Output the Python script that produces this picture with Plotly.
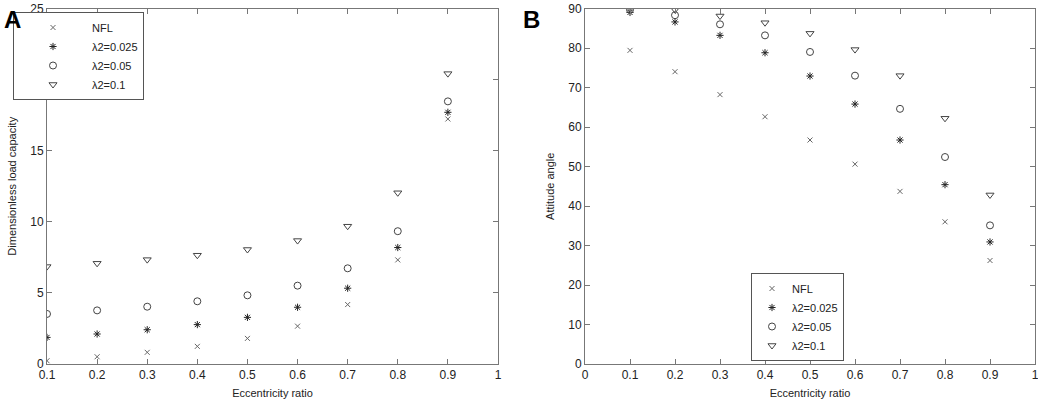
import plotly.graph_objects as go

ecc_a = [0.1, 0.2, 0.3, 0.4, 0.5, 0.6, 0.7, 0.8, 0.9]
load_nfl = [0.23, 0.51, 0.82, 1.24, 1.80, 2.66, 4.18, 7.32, 17.23]
load_l025 = [1.87, 2.11, 2.41, 2.77, 3.28, 3.99, 5.33, 8.19, 17.70]
load_l05 = [3.52, 3.77, 4.03, 4.41, 4.83, 5.51, 6.73, 9.34, 18.47]
load_l1 = [6.85, 7.08, 7.34, 7.65, 8.05, 8.68, 9.69, 12.04, 20.42]

ecc_b = [0.1, 0.2, 0.3, 0.4, 0.5, 0.6, 0.7, 0.8, 0.9]
ang_nfl = [79.4, 74.0, 68.2, 62.6, 56.7, 50.6, 43.7, 36.0, 26.2]
ang_l025 = [89.0, 86.6, 83.2, 78.8, 72.9, 65.8, 56.7, 45.4, 30.9]
ang_l05 = [89.7, 88.3, 86.0, 83.2, 79.0, 73.0, 64.6, 52.4, 35.1]
ang_l1 = [90.0, 89.7, 88.1, 86.4, 83.7, 79.6, 73.0, 62.2, 42.8]

names = ["NFL", "λ2=0.025", "λ2=0.05", "λ2=0.1"]
symbols = ["x-thin-open", "asterisk-open", "circle-open", "triangle-down-open"]
sizes = [5, 6, 7, 7]
colors = ["#666666", "#222222", "#444444", "#444444"]

FONT = "Liberation Sans, Arial, sans-serif"
W, H = 1038, 399

fig = go.Figure()

series_a = [load_nfl, load_l025, load_l05, load_l1]
series_b = [ang_nfl, ang_l025, ang_l05, ang_l1]

for i in range(4):
    fig.add_trace(go.Scatter(
        x=ecc_a, y=series_a[i], mode="markers", name=names[i],
        marker=dict(symbol=symbols[i], size=sizes[i], color=colors[i],
                    line=dict(width=1, color=colors[i])),
        xaxis="x", yaxis="y", legend="legend", hoverinfo="skip"))
for i in range(4):
    fig.add_trace(go.Scatter(
        x=ecc_b, y=series_b[i], mode="markers", name=names[i],
        marker=dict(symbol=symbols[i], size=sizes[i], color=colors[i],
                    line=dict(width=1, color=colors[i])),
        xaxis="x2", yaxis="y2", legend="legend2", hoverinfo="skip"))

ydom = [1 - 364 / H, 1 - 8.5 / H]
axcommon = dict(showgrid=False, zeroline=False, showline=True, linecolor="#777777",
                linewidth=1, mirror="allticks", ticks="inside", ticklen=5,
                tickcolor="#777777", tickfont=dict(family=FONT, size=12, color="#222"),
                automargin=False, ticklabeloverflow="allow")

fig.update_layout(
    width=W, height=H,
    margin=dict(l=0, r=0, t=0, b=0),
    paper_bgcolor="white", plot_bgcolor="white",
    font=dict(family=FONT, color="#222"),
    xaxis=dict(domain=[47 / W, 498 / W], range=[0.1, 1],
               tickvals=[0.1, 0.2, 0.3, 0.4, 0.5, 0.6, 0.7, 0.8, 0.9, 1],
               ticktext=["0.1", "0.2", "0.3", "0.4", "0.5", "0.6", "0.7", "0.8", "0.9", "1"],
               title=dict(text="Eccentricity ratio", font=dict(family=FONT, size=11), standoff=7),
               anchor="y", **axcommon),
    yaxis=dict(domain=ydom, range=[0, 25], dtick=5,
               title=dict(text="Dimensionless load capacity", font=dict(family=FONT, size=11), standoff=11),
               anchor="x", **axcommon),
    xaxis2=dict(domain=[585 / W, 1035 / W], range=[0, 1],
                tickvals=[0, 0.1, 0.2, 0.3, 0.4, 0.5, 0.6, 0.7, 0.8, 0.9, 1],
                ticktext=["0", "0.1", "0.2", "0.3", "0.4", "0.5", "0.6", "0.7", "0.8", "0.9", "1"],
                title=dict(text="Eccentricity ratio", font=dict(family=FONT, size=11), standoff=7),
                anchor="y2", **axcommon),
    yaxis2=dict(domain=ydom, range=[0, 90], dtick=10,
                title=dict(text="Attitude angle", font=dict(family=FONT, size=11), standoff=11),
                anchor="x2", **axcommon),
    legend=dict(x=13 / W, y=1 - 12 / H, xanchor="left", yanchor="top",
                bordercolor="#555555", borderwidth=1, bgcolor="white",
                font=dict(family=FONT, size=11), tracegroupgap=0, itemwidth=68),
    legend2=dict(x=751 / W, y=1 - 317 / H, xanchor="left", yanchor="middle",
                 bordercolor="#555555", borderwidth=1, bgcolor="white",
                 font=dict(family=FONT, size=11), tracegroupgap=0, itemwidth=30),
    showlegend=True,
    annotations=[
        dict(text="<b>A</b>", x=2 / W, y=1 - 4 / H, xref="paper", yref="paper",
             xanchor="left", yanchor="top", showarrow=False,
             font=dict(family=FONT, size=24, color="black")),
        dict(text="<b>B</b>", x=521 / W, y=1 - 4 / H, xref="paper", yref="paper",
             xanchor="left", yanchor="top", showarrow=False,
             font=dict(family=FONT, size=24, color="black")),
    ],
)

fig.write_html("out.html", config={"displayModeBar": False},
               post_script="document.body.style.margin='0';document.body.style.overflow='hidden';")
